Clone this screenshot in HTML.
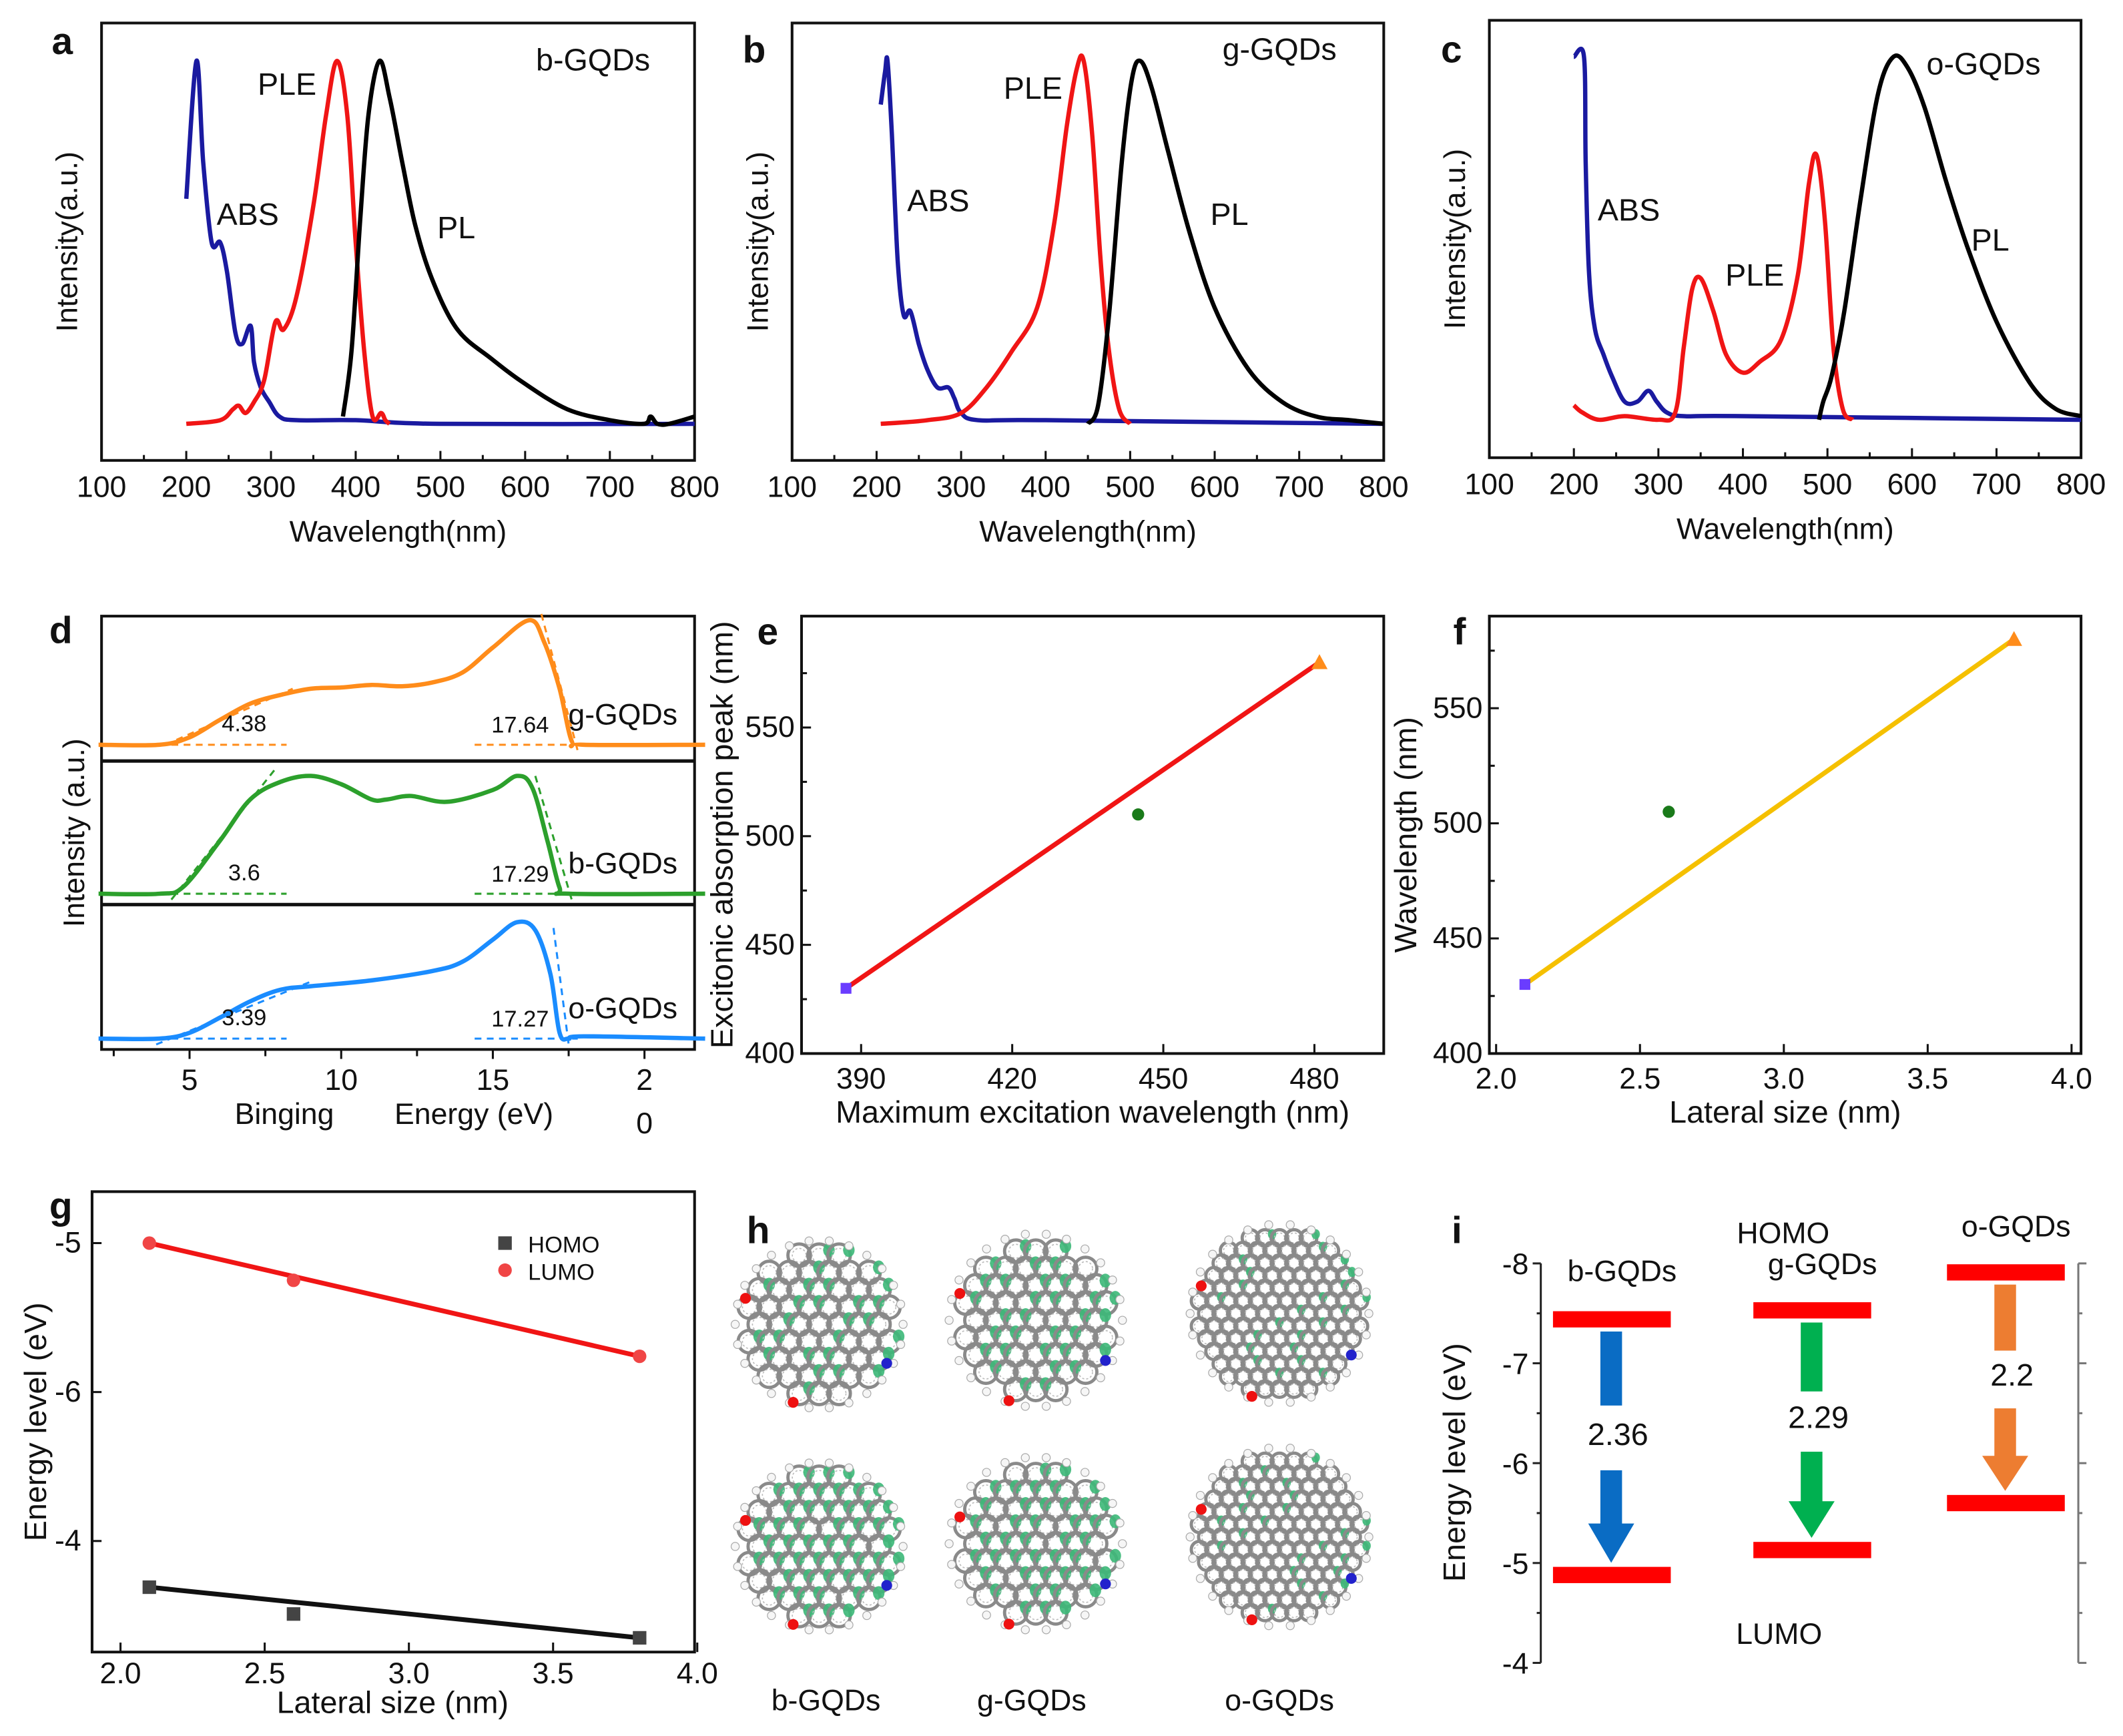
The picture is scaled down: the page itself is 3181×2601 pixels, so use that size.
<!DOCTYPE html>
<html><head><meta charset="utf-8"><style>
html,body{margin:0;padding:0;background:#fff;}
svg{display:block;}
text{font-family:"Liberation Sans",sans-serif;fill:#111;}
</style></head><body>
<svg id="fig" width="3181" height="2601" viewBox="0 0 1568 1282" preserveAspectRatio="none" xmlns="http://www.w3.org/2000/svg">
<rect width="1568" height="1282" fill="#fff"/>
</svg>
<script>
// ---- Panel a data (wavelength nm, normalized intensity)
const aAbsX=[200,212,220,230,240,248,258,266,276,280,288,298,310,330,400,500,800];
const aAbsY=[0.62,1.0,0.72,0.5,0.5,0.42,0.25,0.22,0.27,0.17,0.1,0.06,0.02,0.01,0.01,0.0,0.0];
const aPleX=[200,240,255,262,270,280,292,305,315,330,350,365,378,390,400,410,420,430,435,440];
const aPleY=[0.0,0.01,0.04,0.05,0.03,0.06,0.12,0.28,0.26,0.35,0.6,0.85,1.0,0.85,0.5,0.2,0.02,0.03,0.01,0.0];
const aPlX=[385,395,405,415,428,440,455,470,490,520,560,600,650,700,740,748,756,770,800];
const aPlY=[0.02,0.2,0.55,0.85,1.0,0.9,0.72,0.55,0.4,0.26,0.18,0.11,0.04,0.01,0.0,0.02,0.0,0.0,0.02];
// ---- Panel b
const bAbsX=[205,210,213,218,225,232,240,250,260,272,285,292,300,320,400,800];
const bAbsY=[0.88,0.97,1.0,0.8,0.45,0.3,0.31,0.22,0.15,0.1,0.1,0.07,0.03,0.01,0.01,0.0];
const bPleX=[205,260,300,330,360,390,410,425,437,445,455,465,475,487,500];
const bPleY=[0.0,0.01,0.03,0.1,0.2,0.32,0.55,0.82,0.98,1.0,0.8,0.45,0.2,0.04,0.0];
const bPlX=[450,462,475,490,502,512,525,545,570,600,640,680,720,760,800];
const bPlY=[0.0,0.05,0.3,0.72,0.95,1.0,0.93,0.75,0.53,0.32,0.15,0.06,0.02,0.01,0.0];
// ---- Panel c
const cAbsX=[200,212,214,218,225,235,245,260,275,288,298,310,330,400,800];
const cAbsY=[1.0,1.0,0.7,0.4,0.25,0.18,0.12,0.05,0.05,0.08,0.05,0.02,0.01,0.01,0.0];
const cPleX=[200,210,230,260,300,320,330,340,350,365,380,400,420,445,465,478,487,497,507,518,530];
const cPleY=[0.04,0.02,0.0,0.01,0.0,0.02,0.2,0.36,0.39,0.3,0.18,0.13,0.16,0.22,0.4,0.65,0.73,0.55,0.2,0.03,0.0];
const cPlX=[490,495,505,520,540,560,578,595,615,640,665,700,740,770,800];
const cPlY=[0.0,0.05,0.12,0.3,0.62,0.9,1.0,0.97,0.86,0.66,0.48,0.27,0.1,0.03,0.01];
const specTicks=[100,200,300,400,500,600,700,800];
// ---- Panel d (binding energy eV, normalized)
const dOrangeX=[2,4,5,6,7,8,9,10,11,12,13,14,15,16.2,16.7,17.2,17.6,18,22];
const dOrangeY=[0,0,0.06,0.2,0.33,0.4,0.45,0.46,0.48,0.47,0.5,0.58,0.78,1.0,0.82,0.45,0.03,0,0];
const dGreenX=[2,4,4.8,6,7,8,9,10,11,11.5,12.3,13.5,15,15.8,16.3,16.8,17.2,17.5,22];
const dGreenY=[0,0,0.06,0.45,0.8,0.95,1.0,0.93,0.8,0.8,0.83,0.78,0.88,1.0,0.9,0.45,0.05,0,0];
const dBlueX=[2,4,5,6,7,8,9,11,13,14,15,15.8,16.4,16.9,17.2,17.5,18,22];
const dBlueY=[0,0,0.05,0.18,0.32,0.42,0.45,0.5,0.58,0.66,0.85,1.0,0.93,0.55,0.05,0,0.02,0];
const dTicks=[5,10,15];
// ---- Panel e
const eX=[387,445,481];
const eY=[430,510,580];
const eXTicks=[390,420,450,480];
const eYTicks=[400,450,500,550];
// ---- Panel f
const fX=[2.1,2.6,3.8];
const fY=[430,505,580];
const fXTicks=[2.0,2.5,3.0,3.5,4.0];
const fYTicks=[400,450,500,550];
// ---- Panel g
const gSize=[2.1,2.6,3.8];
const gHomo=[-7.31,-7.49,-7.65];
const gLumo=[-5.0,-5.25,-5.76];
const gXTicks=[2.0,2.5,3.0,3.5,4.0];
const gYTickVals=[-5,-6,-7];
const gYTickLabels=["-5","-6","-4"];
// ---- Panel i
const iNames=["b-GQDs","g-GQDs","o-GQDs"];
const iHomo=[-7.44,-7.53,-7.91];
const iLumo=[-4.88,-5.13,-5.60];
const iGaps=["2.36","2.29","2.2"];
const iTicks=[-8,-7,-6,-5,-4];

const NS="http://www.w3.org/2000/svg";
const svg=document.getElementById('fig');
function mk(tag,attrs,parent){const e=document.createElementNS(NS,tag);for(const k in attrs)e.setAttribute(k,attrs[k]);(parent||svg).appendChild(e);return e;}
function txt(x,y,s,size,anchor,parent,extra){const t=mk('text',Object.assign({x:x,y:y,'font-size':size,'text-anchor':anchor||'middle'},extra||{}),parent);t.textContent=s;return t;}
function smooth(pts){let d='M'+pts[0][0].toFixed(1)+','+pts[0][1].toFixed(1);
 for(let i=0;i<pts.length-1;i++){const p0=pts[i-1]||pts[i],p1=pts[i],p2=pts[i+1],p3=pts[i+2]||p2;
 const c1=[p1[0]+(p2[0]-p0[0])/6,p1[1]+(p2[1]-p0[1])/6],c2=[p2[0]-(p3[0]-p1[0])/6,p2[1]-(p3[1]-p1[1])/6];
 d+=' C'+c1[0].toFixed(1)+','+c1[1].toFixed(1)+' '+c2[0].toFixed(1)+','+c2[1].toFixed(1)+' '+p2[0].toFixed(1)+','+p2[1].toFixed(1);}
 return d;}
function frame(x0,y0,x1,y1,g){mk('rect',{x:x0,y:y0,width:x1-x0,height:y1-y0,fill:'none',stroke:'#111','stroke-width':2},g);}
function letter(x,y,s,g){const pl=txt(x,y,s,28,'middle',g,{'font-weight':'bold'});
 
 }

// ---------- spectra panels a,b,c ----------
function spectra(cfg){
 const g=mk('g',{});
 
 
 const {x0,x1,y0,y1,base,peak}=cfg;
 const sx=w=>x0+(w-100)/700*(x1-x0);
 const sy=v=>base-v*(base-peak);
 frame(x0,y0,x1,y1,g);
 specTicks.forEach((t,i)=>{const x=sx(t);
  mk('line',{x1:x,x2:x,y1:y1,y2:y1-7,stroke:'#111','stroke-width':1.5},g);
  if(i<specTicks.length-1) mk('line',{x1:sx(t+50),x2:sx(t+50),y1:y1,y2:y1-4,stroke:'#111','stroke-width':1.5},g);
  const tl=txt(x,y1+27,String(t),22,'middle',g);
  
  });
 const xt=txt((x0+x1)/2,y1+60,'Wavelength(nm)',22,'middle',g);
 
 
 const yt=txt(0,0,'Intensity(a.u.)',22,'middle',g,{transform:`translate(${x0-18},${(y0+y1)/2}) rotate(-90)`});
 
 
 cfg.series.forEach(s=>{const p=mk('path',{d:smooth(s.x.map((w,i)=>[sx(w),sy(s.y[i])])),fill:'none',stroke:s.c,'stroke-width':3.2,'stroke-linejoin':'round'},g);
  
  });
 cfg.labels.forEach(l=>{const t=txt(l[0],l[1],l[2],23,'middle',g);
  
  });
 letter(cfg.letter[0],cfg.letter[1],cfg.letter[2],g);
}
spectra({name:'panel-a-b-gqds-spectra',x0:75,x1:513,y0:17,y1:340,base:313,peak:45,letter:[46,40,'a'],
 series:[{x:aAbsX,y:aAbsY,c:'#1a1aa0',n:'abs-curve'},{x:aPleX,y:aPleY,c:'#f01515',n:'ple-curve'},{x:aPlX,y:aPlY,c:'#000',n:'pl-curve'}],
 labels:[[212,70,'PLE'],[183,166,'ABS'],[337,176,'PL'],[438,52,'b-GQDs']]});
spectra({name:'panel-b-g-gqds-spectra',x0:585,x1:1022,y0:17,y1:340,base:313,peak:45,letter:[557,46,'b'],
 series:[{x:bAbsX,y:bAbsY,c:'#1a1aa0',n:'abs-curve'},{x:bPleX,y:bPleY,c:'#f01515',n:'ple-curve'},{x:bPlX,y:bPlY,c:'#000',n:'pl-curve'}],
 labels:[[763,73,'PLE'],[693,156,'ABS'],[908,166,'PL'],[945,44,'g-GQDs']]});
spectra({name:'panel-c-o-gqds-spectra',x0:1100,x1:1537,y0:15,y1:338,base:310,peak:42,letter:[1072,46,'c'],
 series:[{x:cAbsX,y:cAbsY,c:'#1a1aa0',n:'abs-curve'},{x:cPleX,y:cPleY,c:'#f01515',n:'ple-curve'},{x:cPlX,y:cPlY,c:'#000',n:'pl-curve'}],
 labels:[[1203,163,'ABS'],[1296,211,'PLE'],[1470,185,'PL'],[1465,55,'o-GQDs']]});

// ---------- panel d ----------
(function(){
 const g=mk('g',{});
 
 
 const x0=75,x1=513,y0=455,y1=775;
 const sx=e=>140+(e-5)*22.4;
 frame(x0,y0,x1,y1,g);
 mk('line',{x1:x0,x2:x1,y1:562,y2:562,stroke:'#111','stroke-width':2.5},g);
 mk('line',{x1:x0,x2:x1,y1:668,y2:668,stroke:'#111','stroke-width':2.5},g);
 [2.5,7.5,12.5,17.5].forEach(t=>mk('line',{x1:sx(t),x2:sx(t),y1:y1,y2:y1+5,stroke:'#111','stroke-width':1.5},g));
 dTicks.concat([20]).forEach(t=>mk('line',{x1:sx(t),x2:sx(t),y1:y1,y2:y1+7,stroke:'#111','stroke-width':1.5},g));
 dTicks.forEach(t=>{const l=txt(sx(t),y1+30,String(t),22,'middle',g);
  
  });
 txt(sx(20),y1+30,'2',22,'middle',g);txt(sx(20),y1+62,'0',22,'middle',g);
 const xt1=txt(210,y1+55,'Binging',22,'middle',g);
 
 
 txt(350,y1+55,'Energy (eV)',22,'middle',g);
 const yt=txt(0,0,'Intensity      (a.u.)',22,'middle',g,{transform:`translate(62,${(y0+y1)/2}) rotate(-90)`});
 
 
 const sets=[
  {x:dOrangeX,y:dOrangeY,c:'#ff8c1a',base:550,amp:92,name:'g-gqds-curve',lab:'g-GQDs',n1:'4.38',n2:'17.64',t1:[[4.2,0],[8.4,0.45]],t2:[[16.6,1.05],[17.8,-0.05]]},
  {x:dGreenX,y:dGreenY,c:'#2ca02c',base:660,amp:87,name:'b-gqds-curve',lab:'b-GQDs',n1:'3.6',n2:'17.29',t1:[[4.4,-0.05],[7.8,1.05]],t2:[[16.4,1.0],[17.6,-0.05]]},
  {x:dBlueX,y:dBlueY,c:'#1a8cff',base:767,amp:86,name:'o-gqds-curve',lab:'o-GQDs',n1:'3.39',n2:'17.27',t1:[[3.9,-0.05],[9.1,0.5]],t2:[[17.0,0.95],[17.5,-0.05]]}];
 sets.forEach(s=>{
  const sy=v=>s.base-v*s.amp;
  mk('line',{x1:sx(3.6),x2:sx(8.2),y1:s.base,y2:s.base,stroke:s.c,'stroke-width':1.5,'stroke-dasharray':'5,4'},g);
  mk('line',{x1:sx(14.4),x2:sx(17.8),y1:s.base,y2:s.base,stroke:s.c,'stroke-width':1.5,'stroke-dasharray':'5,4'},g);
  [s.t1,s.t2].forEach(t=>mk('line',{x1:sx(t[0][0]),y1:sy(t[0][1]),x2:sx(t[1][0]),y2:sy(t[1][1]),stroke:s.c,'stroke-width':1.5,'stroke-dasharray':'5,4'},g));
  const p=mk('path',{d:smooth(s.x.map((e,i)=>[sx(e),sy(s.y[i])])),fill:'none',stroke:s.c,'stroke-width':3.2},g);
  
  
  txt(sx(6.8),s.base-10,s.n1,17,'middle',g);
  txt(sx(15.9),s.base-9,s.n2,17,'middle',g);
  const l=txt(460,s.base-15,s.lab,22,'middle',g);
  
  
 });
 letter(45,475,'d',g);
})();

// ---------- panel e & f scatter/line ----------
function scatter(cfg){
 const g=mk('g',{});
 
 
 const {x0,x1,y0,y1}=cfg;
 const sx=v=>cfg.xa+(v-cfg.xv0)*cfg.xs;
 const sy=v=>cfg.ya-(v-400)*cfg.ys;
 frame(x0,y0,x1,y1,g);
 cfg.xt.forEach(t=>{mk('line',{x1:sx(t),x2:sx(t),y1:y1,y2:y1-7,stroke:'#111','stroke-width':1.5},g);
  const l=txt(sx(t),y1+26,cfg.fmt(t),22,'middle',g);
  
  });
 cfg.yt.forEach(t=>{mk('line',{x1:x0,x2:x0+7,y1:sy(t),y2:sy(t),stroke:'#111','stroke-width':1.5},g);
  mk('line',{x1:x0,x2:x0+4,y1:sy(t+25),y2:sy(t+25),stroke:'#111','stroke-width':1.5},g);
  const l=txt(x0-5,sy(t)+7,String(t),22,'end',g);
  
  });
 const xt=txt((x0+x1)/2,y1+51,cfg.xtitle,23,'middle',g);
 
 
 const yt=txt(0,0,cfg.ytitle,23,'middle',g,{transform:`translate(${cfg.ytx},${(y0+y1)/2}) rotate(-90)`});
 
 
 const n=cfg.X.length-1;
 const ln=mk('line',{x1:sx(cfg.X[0]),y1:sy(cfg.Y[0]),x2:sx(cfg.X[n]),y2:sy(cfg.Y[n]),stroke:cfg.lc,'stroke-width':3.5},g);
 
 
 const sq=mk('rect',{x:sx(cfg.X[0])-4,y:sy(cfg.Y[0])-4,width:8,height:8,fill:'#6a3cff'},g);
 
 
 const ci=mk('circle',{cx:sx(cfg.X[1]),cy:sy(cfg.Y[1]),r:4.5,fill:'#1a7a1a'},g);
 
 
 const tx=sx(cfg.X[2]),ty=sy(cfg.Y[2]);
 const tr=mk('polygon',{points:`${tx},${ty-6} ${tx-6},${ty+5} ${tx+6},${ty+5}`,fill:'#ff8c1a'},g);
 
 
 letter(cfg.letter[0],cfg.letter[1],cfg.letter[2],g);
}
scatter({name:'panel-e-excitonic-vs-excitation',x0:592,x1:1022,y0:455,y1:778,xa:636,xv0:390,xs:3.72,ya:778,ys:1.605,
 X:eX,Y:eY,xt:eXTicks,yt:eYTicks,fmt:t=>String(t),lc:'#f01515',xtitle:'Maximum excitation wavelength (nm)',ytitle:'Excitonic absorption peak (nm)',ytx:541,letter:[567,476,'e']});
scatter({name:'panel-f-wavelength-vs-size',x0:1100,x1:1537,y0:455,y1:778,xa:1105,xv0:2.0,xs:212.5,ya:778,ys:1.7,
 X:fX,Y:fY,xt:fXTicks,yt:fYTicks,fmt:t=>t.toFixed(1),lc:'#f5c000',xtitle:'Lateral size (nm)',ytitle:'Wavelength (nm)',ytx:1046,letter:[1078,476,'f']});

// ---------- panel g ----------
(function(){
 const g=mk('g',{});
 
 
 const x0=68,x1=513,y0=880,y1=1220;
 const sx=v=>89+(v-2.0)*213;
 const sy=v=>918-(v+5)*110;
 frame(x0,y0,x1,y1,g);
 gXTicks.forEach(t=>{mk('line',{x1:sx(t),x2:sx(t),y1:y1,y2:y1-7,stroke:'#111','stroke-width':1.5},g);
  const l=txt(sx(t),y1+23,t.toFixed(1),22,'middle',g);
  
  });
 gYTickVals.forEach((v,i)=>{mk('line',{x1:x0,x2:x0+7,y1:sy(v),y2:sy(v),stroke:'#111','stroke-width':1.5},g);
  const l=txt(x0-8,sy(v)+7,gYTickLabels[i],22,'end',g);
  
  });
 const xt=txt(290,1265,'Lateral size (nm)',23,'middle',g);
 
 
 const yt=txt(0,0,'Energy level (eV)',23,'middle',g,{transform:`translate(34,1050) rotate(-90)`});
 
 
 const n=gSize.length-1;
 const lf=mk('line',{x1:sx(gSize[0]),y1:sy(gLumo[0]),x2:sx(gSize[n]),y2:sy(gLumo[n]),stroke:'#f01515','stroke-width':3.5},g);
 
 
 const hf=mk('line',{x1:sx(gSize[0]),y1:sy(gHomo[0]),x2:sx(gSize[n]),y2:sy(gHomo[n]),stroke:'#111','stroke-width':3.5},g);
 
 
 gSize.forEach((s,i)=>{
  const r=mk('rect',{x:sx(s)-5,y:sy(gHomo[i])-5,width:10,height:10,fill:'#444'},g);
  
  
  const c=mk('circle',{cx:sx(s),cy:sy(gLumo[i]),r:5,fill:'#f04545'},g);
  
  });
 const le1=mk('g',{},g);
 
 
 mk('rect',{x:368,y:913,width:10,height:10,fill:'#444'},le1);txt(390,925,'HOMO',17,'start',le1);
 const le2=mk('g',{},g);
 
 
 mk('circle',{cx:373,cy:938,r:5,fill:'#f04545'},le2);txt(390,945,'LUMO',17,'start',le2);
 letter(45,900,'g',g);
})();

// ---------- panel h (decorative molecular models) ----------
(function(){
 const g=mk('g',{});
 
 
 const mols=[[605,978,64,0.45,'b'],[765,975,66,0.55,'g'],[945,970,68,0.12,'o'],[605,1142,64,0.85,'b'],[765,1140,66,0.75,'g'],[945,1135,68,0.12,'o']];
 mols.forEach((m,mi)=>{
  const [cx,cy,R,green]=m;
  const mg=mk('g',{},g);
  
  
  const a=m[4]==='o'?6.2:8.5;
  const dx=a*Math.sqrt(3),dy=a*1.5;
  let k=0;
  for(let j=-12;j<=12;j++)for(let i=-12;i<=12;i++){
   const x=cx+i*dx+(j%2?dx/2:0),y=cy+j*dy;
   if((x-cx)**2+(y-cy)**2>(R-a*1.2)**2)continue;
   mk('circle',{cx:x,cy:y,r:a*0.98,fill:'none',stroke:'#8a8a8a','stroke-width':2.4},mg);
   mk('circle',{cx:x,cy:y,r:a*0.6,fill:'none',stroke:'#bbb','stroke-width':0.8,'stroke-dasharray':'1.5,1.5'},mg);
   k++;
   if(((k*7+mi*3)%10)/10<green) mk('ellipse',{cx:x+a*0.85,cy:y-a*0.45,rx:a*0.5,ry:a*0.6,fill:'#3cb878',opacity:0.9},mg);
  }
  for(let t=0;t<26;t++){const an=t/26*Math.PI*2;
   mk('circle',{cx:cx+(R-2)*Math.cos(an),cy:cy+(R-2)*Math.sin(an),r:3,fill:'#f6f6f6',stroke:'#aaa','stroke-width':0.6},mg);}
  mk('circle',{cx:cx-R*0.85,cy:cy-R*0.3,r:4,fill:'#e11'},mg);
  mk('circle',{cx:cx+R*0.78,cy:cy+R*0.45,r:4,fill:'#22c'},mg);
  mk('circle',{cx:cx-R*0.3,cy:cy+R*0.9,r:4,fill:'#e11'},mg);
 });
 [['b-GQDs',610],['g-GQDs',762],['o-GQDs',945]].forEach(l=>{const t=txt(l[1],1263,l[0],22,'middle',g);
  
  });
 letter(560,918,'h',g);
})();

// ---------- panel i ----------
(function(){
 const g=mk('g',{});
 
 
 const ax=1138,sy=v=>933+(v+8)*73.75;
 mk('line',{x1:ax,x2:ax,y1:sy(-8),y2:sy(-4),stroke:'#222','stroke-width':1.5},g);
 mk('line',{x1:1535,x2:1535,y1:sy(-8),y2:sy(-4),stroke:'#777','stroke-width':1.5},g);
 iTicks.forEach(t=>{mk('line',{x1:ax-6,x2:ax,y1:sy(t),y2:sy(t),stroke:'#222','stroke-width':1.5},g);
  mk('line',{x1:1535,x2:1541,y1:sy(t),y2:sy(t),stroke:'#777','stroke-width':1.5},g);
  if(t<-4){mk('line',{x1:ax-3,x2:ax,y1:sy(t+0.5),y2:sy(t+0.5),stroke:'#222','stroke-width':1.5},g);
   mk('line',{x1:1535,x2:1538,y1:sy(t+0.5),y2:sy(t+0.5),stroke:'#777','stroke-width':1.5},g);}
  const l=txt(ax-9,sy(t)+8,String(t),22,'end',g);
  
  });
 const yt=txt(0,0,'Energy level (eV)',23,'middle',g,{transform:`translate(1082,1080) rotate(-90)`});
 
 
 const cols=[1190,1338,1481],arrowC=['#0a6cc4','#00b050','#ed7d31'],labY=[946,941,913];
 iNames.forEach((nm,i)=>{
  const cx=cols[i],hy=sy(iHomo[i]),ly=sy(iLumo[i]);
  const hb=mk('rect',{x:cx-43,y:hy-6,width:87,height:12,fill:'#ff0000'},g);
  
  
  const lb=mk('rect',{x:cx-43,y:ly-6,width:87,height:12,fill:'#ff0000'},g);
  
  
  const top=hy+9,tip=ly-9,L=tip-top,c=arrowC[i];
  const ax2=mk('g',{},g);
  
  
  mk('rect',{x:cx-8,y:top,width:16,height:L*0.32,fill:c},ax2);
  mk('rect',{x:cx-8,y:top+L*0.6,width:16,height:L*0.25,fill:c},ax2);
  mk('polygon',{points:`${cx-17},${top+L*0.83} ${cx+17},${top+L*0.83} ${cx},${tip}`,fill:c},ax2);
  const gt=txt(cx+5,top+L*0.49,iGaps[i],23,'middle',g);
  
  
  const nl=txt(cx+8,labY[i],nm,22,'middle',g);
  
  
 });
 txt(1317,918,'HOMO',22,'middle',g);
 txt(1314,1214,'LUMO',22,'middle',g);
 letter(1076,918,'i',g);
})();
</script>
</body></html>
